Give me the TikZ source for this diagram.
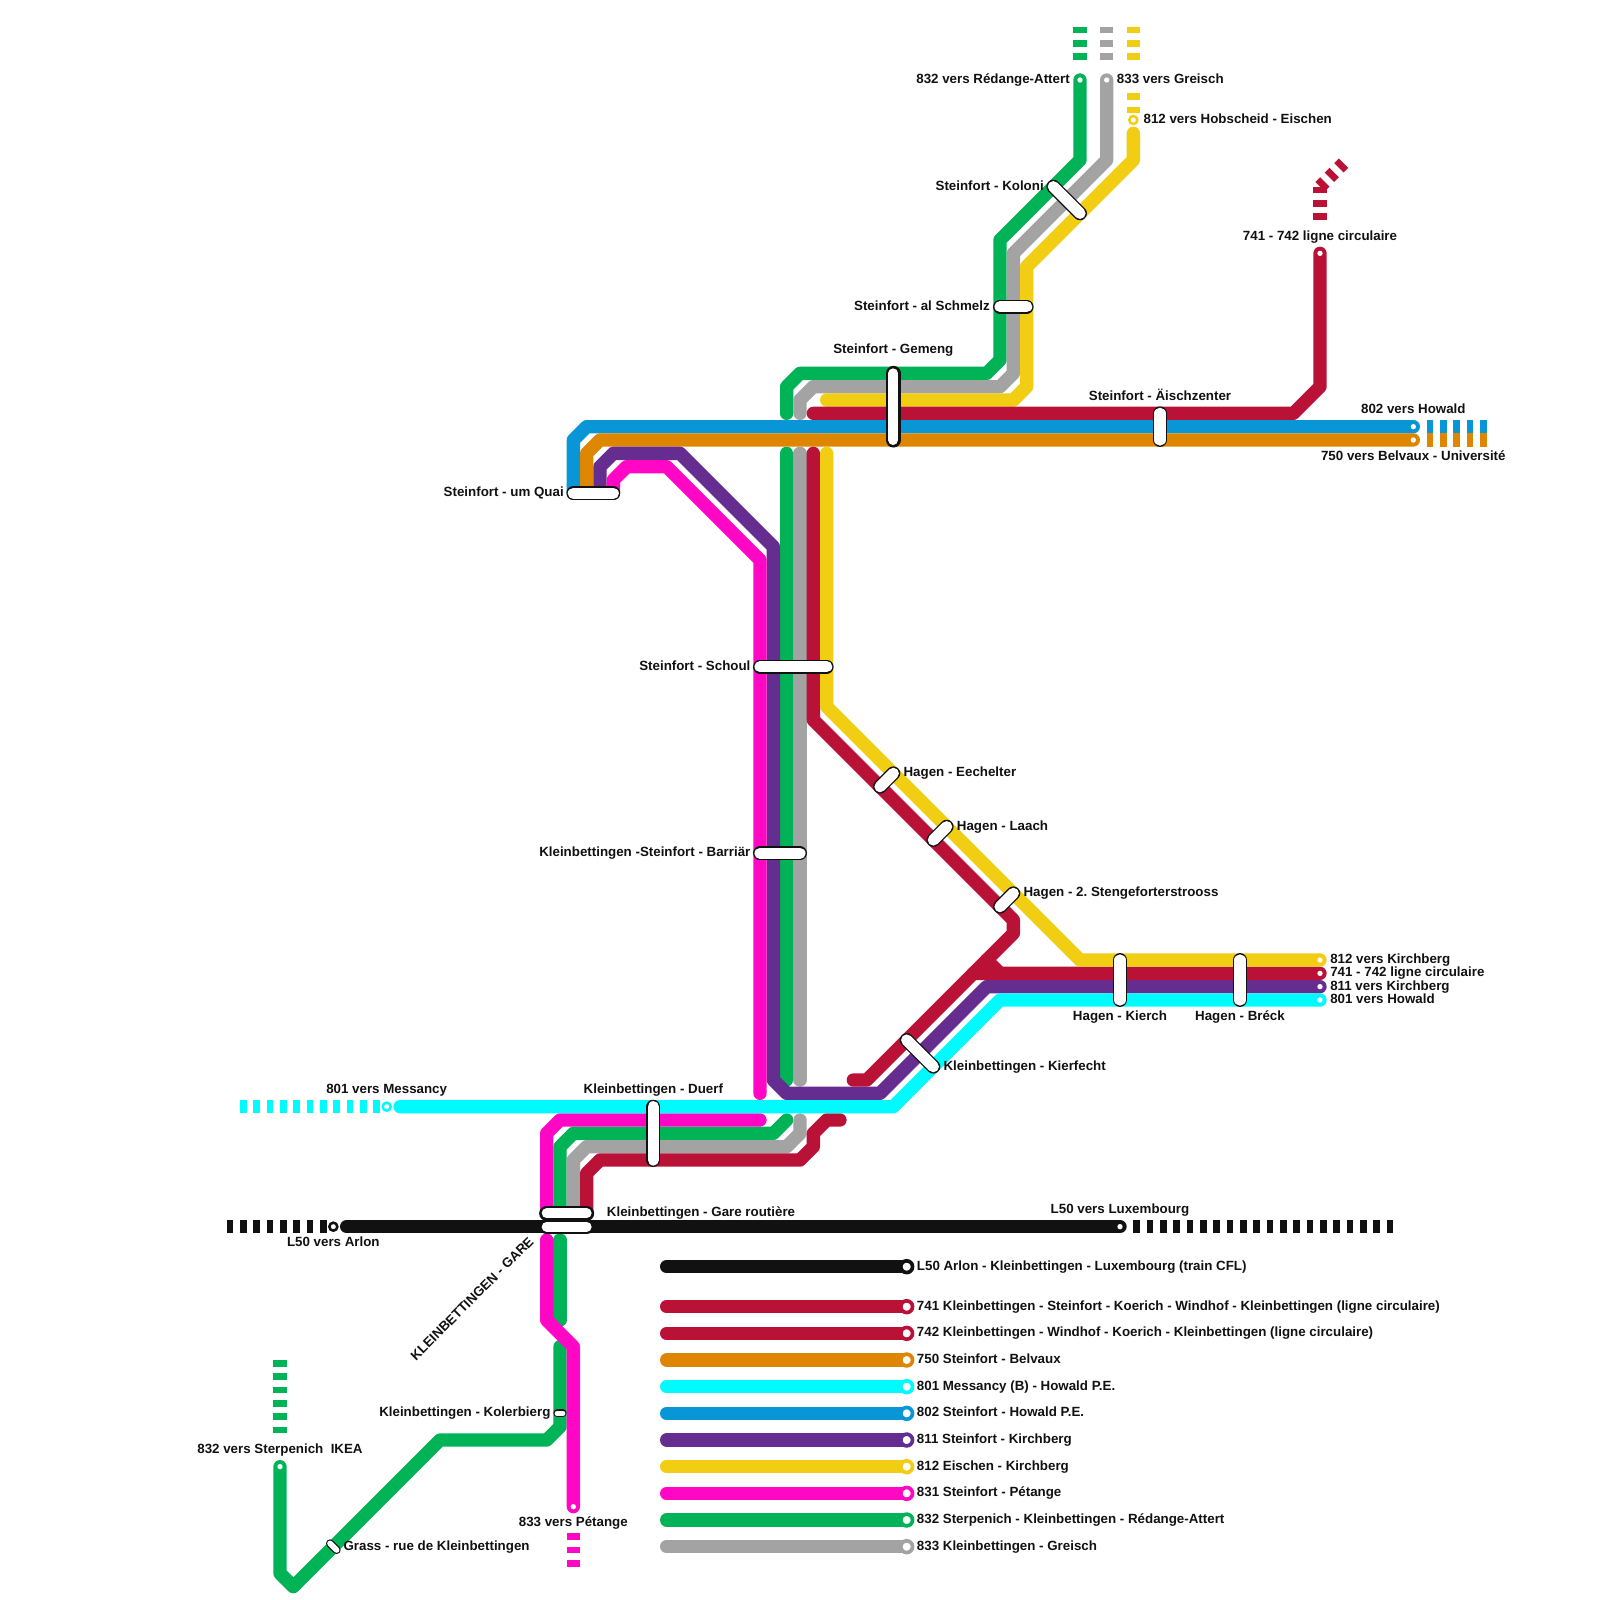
\documentclass[tikz,border=0pt]{standalone}
\usepackage{fontspec}
\setmainfont{Liberation Sans}
\definecolor{lineblack}{HTML}{111111}
\definecolor{linecrimson}{HTML}{BA1237}
\definecolor{lineorange}{HTML}{DF8600}
\definecolor{linecyan}{HTML}{00FBFF}
\definecolor{lineblue}{HTML}{0996D7}
\definecolor{linepurple}{HTML}{662D91}
\definecolor{lineyellow}{HTML}{F1CD13}
\definecolor{linepink}{HTML}{FF07C4}
\definecolor{linegreen}{HTML}{00B356}
\definecolor{linegrey}{HTML}{A3A3A3}
\tikzset{
  route/.style={line width=10pt,line cap=round,line join=round},
  routedash/.style={line width=10pt,line cap=butt,dash pattern=on 5pt off 5pt},
  station/.style={draw=lineblack,line width=1pt,double=white,double distance=8.4pt,line cap=round},
  stationbig/.style={draw=lineblack,line width=1.9pt,double=white,double distance=7.5pt,line cap=round},
  stationtiny/.style={draw=lineblack,line width=0.9pt,double=white,double distance=4.2pt,line cap=round},
  stopdot/.style={fill=white},
  stopring/.style={fill=white,line width=1.9pt},
  keyring/.style={fill=white,line width=2.75pt},
  lbl/.style={inner sep=0pt,text=lineblack,font=\fontsize{10pt}{12pt}\selectfont\bfseries},
  lw/.style={lbl,anchor=base west},
  le/.style={lbl,anchor=base east},
  lc/.style={lbl,anchor=base}
}
\begin{document}
\begin{tikzpicture}[x=10pt,y=10pt]
\useasboundingbox (0,0) rectangle (120,-120);
% green and grey first, the others lie over them
\draw[route,linegreen] (81,-6) -- (81,-12) -- (75,-18) -- (75,-27) -- (74,-28) -- (60,-28) -- (59,-29) -- (59,-31);
\draw[route,linegrey] (83,-6) -- (83,-12) -- (76,-19) -- (76,-28) -- (75,-29) -- (61,-29) -- (60,-30) -- (60,-31);
\draw[route,lineyellow] (85,-10) -- (85,-12) -- (77,-20) -- (77,-29) -- (76,-30) -- (62,-30);
\draw[route,linecrimson] (99,-19) -- (99,-29) -- (97,-31) -- (61,-31);
\draw[route,linegreen] (59,-34) -- (59,-81);
\draw[route,linegrey] (60,-34) -- (60,-81);
\draw[route,linegreen] (59,-84) -- (58,-85) -- (43,-85) -- (42,-86) -- (42,-91);
\draw[route,linegrey] (60,-84) -- (60,-85) -- (59,-86) -- (44,-86) -- (43,-87) -- (43,-91);
\draw[route,linegreen] (42,-93) -- (42,-99);
\draw[route,linegreen] (42,-101) -- (42,-107) -- (41,-108) -- (33,-108) -- (22,-119) -- (21,-118) -- (21,-110);
\draw[route,lineblue] (43,-37) -- (43,-33) -- (44,-32) -- (106,-32);
\draw[route,lineorange] (44,-37) -- (44,-34) -- (45,-33) -- (106,-33);
\draw[route,linepurple] (45,-37) -- (45,-35) -- (46,-34) -- (51,-34) -- (58,-41) -- (58,-81) -- (59,-82) -- (66,-82) -- (74,-74) -- (99,-74);
\draw[route,linepink] (46,-37) -- (46,-36) -- (47,-35) -- (50,-35) -- (57,-42) -- (57,-82);
\draw[route,linepink] (57,-84) -- (42,-84) -- (41,-85) -- (41,-91);
\draw[route,linepink] (41,-93) -- (41,-99) -- (43,-101) -- (43,-113);
\draw[route,linecrimson] (61,-34) -- (61,-54) -- (76,-69) -- (76,-70) -- (73,-73);
\draw[route,linecrimson] (99,-73) -- (73,-73) -- (65,-81) -- (64,-81);
\draw[route,linecrimson] (75,-73) -- (74,-72);
\draw[route,linecrimson] (44,-91) -- (44,-88) -- (45,-87) -- (60,-87) -- (61,-86) -- (61,-85) -- (62,-84) -- (63,-84);
\draw[route,lineyellow] (62,-34) -- (62,-53) -- (81,-72) -- (99,-72);
\draw[route,linecyan] (99,-75) -- (75,-75) -- (67,-83) -- (30,-83);
\draw[route,lineblack] (26,-92) -- (84,-92);
% dashed continuations
\draw[routedash,linegreen] (81,-2) -- (81,-4.5);
\draw[routedash,linegrey] (83,-2) -- (83,-4.5);
\draw[routedash,lineyellow] (85,-2) -- (85,-4.5);
\draw[routedash,lineyellow] (85,-7) -- (85,-8.5);
\draw[routedash,linecrimson] (99,-16.5) -- (99,-14);
\draw[routedash,linecrimson] (99,-14) -- (101,-12);
\draw[routedash,lineblue] (107,-32) -- (111.5,-32);
\draw[routedash,lineorange] (107,-33) -- (111.5,-33);
\draw[routedash,linecyan] (18,-83) -- (28.5,-83);
\draw[routedash,lineblack] (17,-92) -- (24.5,-92);
\draw[routedash,lineblack] (85,-92) -- (104.5,-92);
\draw[routedash,linegreen] (21,-102) -- (21,-107.5);
\draw[routedash,linepink] (43,-115) -- (43,-117.5);
% line ends
\fill[stopdot] (81,-6) circle (2pt);
\fill[stopdot] (83,-6) circle (2pt);
\fill[stopdot] (99,-19) circle (2pt);
\fill[stopdot] (106,-32) circle (2pt);
\fill[stopdot] (106,-33) circle (2pt);
\fill[stopdot] (99,-72) circle (2pt);
\fill[stopdot] (99,-73) circle (2pt);
\fill[stopdot] (99,-74) circle (2pt);
\fill[stopdot] (99,-75) circle (2pt);
\fill[stopdot] (84,-92) circle (2pt);
\fill[stopdot] (21,-110) circle (2pt);
\fill[stopdot] (43,-113) circle (2pt);
\draw[stopring,draw=lineyellow] (85,-9) circle (3pt);
\draw[stopring,draw=linecyan] (29,-83) circle (3pt);
\draw[stopring,draw=lineblack] (25,-92) circle (3pt);
% stations
\draw[station] (79,-14) -- (81,-16);
\draw[station] (75,-23) -- (77,-23);
\draw[stationbig] (67,-28) -- (67,-33);
\draw[station] (87,-31) -- (87,-33);
\draw[station] (43,-37) -- (46,-37);
\draw[station] (57,-50) -- (62,-50);
\draw[station] (57,-64) -- (60,-64);
\draw[station] (66,-59) -- (67,-58);
\draw[station] (70,-63) -- (71,-62);
\draw[station] (75,-68) -- (76,-67);
\draw[station] (84,-72) -- (84,-75);
\draw[station] (93,-72) -- (93,-75);
\draw[station] (68,-78) -- (70,-80);
\draw[station] (49,-83) -- (49,-87);
\draw[stationbig] (41,-91) -- (44,-91);
\draw[stationbig] (41,-92) -- (44,-92);
\draw[stationtiny] (41.8,-106) -- (42.2,-106);
\draw[stationtiny] (24.75,-115.75) -- (25.25,-116.25);
% legend
\draw[route,lineblack] (50,-95) -- (68,-95);
\draw[route,linecrimson] (50,-98) -- (68,-98);
\draw[route,linecrimson] (50,-100) -- (68,-100);
\draw[route,lineorange] (50,-102) -- (68,-102);
\draw[route,linecyan] (50,-104) -- (68,-104);
\draw[route,lineblue] (50,-106) -- (68,-106);
\draw[route,linepurple] (50,-108) -- (68,-108);
\draw[route,lineyellow] (50,-110) -- (68,-110);
\draw[route,linepink] (50,-112) -- (68,-112);
\draw[route,linegreen] (50,-114) -- (68,-114);
\draw[route,linegrey] (50,-116) -- (68,-116);
\draw[keyring,draw=lineblack] (68,-95) circle (4.4pt);
\draw[keyring,draw=linecrimson] (68,-98) circle (4.4pt);
\draw[keyring,draw=linecrimson] (68,-100) circle (4.4pt);
\draw[keyring,draw=lineorange] (68,-102) circle (4.4pt);
\draw[keyring,draw=linecyan] (68,-104) circle (4.4pt);
\draw[keyring,draw=lineblue] (68,-106) circle (4.4pt);
\draw[keyring,draw=linepurple] (68,-108) circle (4.4pt);
\draw[keyring,draw=lineyellow] (68,-110) circle (4.4pt);
\draw[keyring,draw=linepink] (68,-112) circle (4.4pt);
\draw[keyring,draw=linegreen] (68,-114) circle (4.4pt);
\draw[keyring,draw=linegrey] (68,-116) circle (4.4pt);
\node[lw] (keyLfifty) at (68.75,-95.25) {L50 Arlon - Kleinbettingen - Luxembourg (train CFL)};
\node[lw] (keyAa) at (68.75,-98.25) {741 Kleinbettingen - Steinfort - Koerich - Windhof - Kleinbettingen (ligne circulaire)};
\node[lw] (keyAb) at (68.75,-100.25) {742 Kleinbettingen - Windhof - Koerich - Kleinbettingen (ligne circulaire)};
\node[lw] (keyB) at (68.75,-102.25) {750 Steinfort - Belvaux};
\node[lw] (keyCa) at (68.75,-104.25) {801 Messancy (B) - Howald P.E.};
\node[lw] (keyCb) at (68.75,-106.25) {802 Steinfort - Howald P.E.};
\node[lw] (keyDa) at (68.75,-108.25) {811 Steinfort - Kirchberg};
\node[lw] (keyDb) at (68.75,-110.25) {812 Eischen - Kirchberg};
\node[lw] (keyEa) at (68.75,-112.25) {831 Steinfort - Pétange};
\node[lw] (keyEb) at (68.75,-114.25) {832 Sterpenich - Kleinbettingen - Rédange-Attert};
\node[lw] (keyEc) at (68.75,-116.25) {833 Kleinbettingen - Greisch};
% labels
\node[le] (toRedange) at (80.25,-6.25) {832 vers Rédange-Attert};
\node[lw] (toGreisch) at (83.75,-6.25) {833 vers Greisch};
\node[lw] (toHobscheid) at (85.75,-9.25) {812 vers Hobscheid - Eischen};
\node[le] (koloni) at (78.3,-14.25) {Steinfort - Koloni};
\node[lc] (toCircle) at (99,-18) {741 - 742 ligne circulaire};
\node[le] (schmelz) at (74.25,-23.25) {Steinfort - al Schmelz};
\node[lc] (gemeng) at (67,-26.5) {Steinfort - Gemeng};
\node[lc] (aisch) at (87,-30) {Steinfort - Äischzenter};
\node[lc] (toHowaldA) at (106,-31) {802 vers Howald};
\node[lc] (toBelvaux) at (106,-34.5) {750 vers Belvaux - Université};
\node[le] (quai) at (42.3,-37.25) {Steinfort - um Quai};
\node[le] (schoul) at (56.3,-50.25) {Steinfort - Schoul};
\node[lw] (eechelter) at (67.75,-58.25) {Hagen - Eechelter};
\node[lw] (laach) at (71.75,-62.25) {Hagen - Laach};
\node[le] (barriar) at (56.3,-64.25) {Kleinbettingen -Steinfort - Barriär};
\node[lw] (stenge) at (76.75,-67.25) {Hagen - 2.\ Stengeforterstrooss};
\node[lw] (toKirchA) at (99.75,-72.25) {812 vers Kirchberg};
\node[lw] (toCircleB) at (99.75,-73.25) {741 - 742 ligne circulaire};
\node[lw] (toKirchB) at (99.75,-74.25) {811 vers Kirchberg};
\node[lw] (toHowaldB) at (99.75,-75.25) {801 vers Howald};
\node[lc] (kierch) at (84,-76.5) {Hagen - Kierch};
\node[lc] (breck) at (93,-76.5) {Hagen - Bréck};
\node[lw] (kierfecht) at (70.75,-80.25) {Kleinbettingen - Kierfecht};
\node[lc] (duerf) at (49,-82) {Kleinbettingen - Duerf};
\node[lc] (toMessancy) at (29,-82) {801 vers Messancy};
\node[lc] (toLuxembourg) at (84,-91) {L50 vers Luxembourg};
\node[lw] (gare) at (45.5,-91.2) {Kleinbettingen - Gare routière};
\node[lc] (toArlon) at (25,-93.5) {L50 vers Arlon};
\node[lbl,rotate=45] (kbgare) at (35.4,-97.4) {KLEINBETTINGEN - GARE};
\node[le] (kolerbierg) at (41.3,-106.25) {Kleinbettingen - Kolerbierg};
\node[lc] (toSterpenich) at (21,-109) {832 vers Sterpenich\ \ IKEA};
\node[lc] (toPetange) at (43,-114.5) {833 vers Pétange};
\node[lw] (grass) at (25.75,-116.25) {Grass - rue de Kleinbettingen};
\end{tikzpicture}
\end{document}
